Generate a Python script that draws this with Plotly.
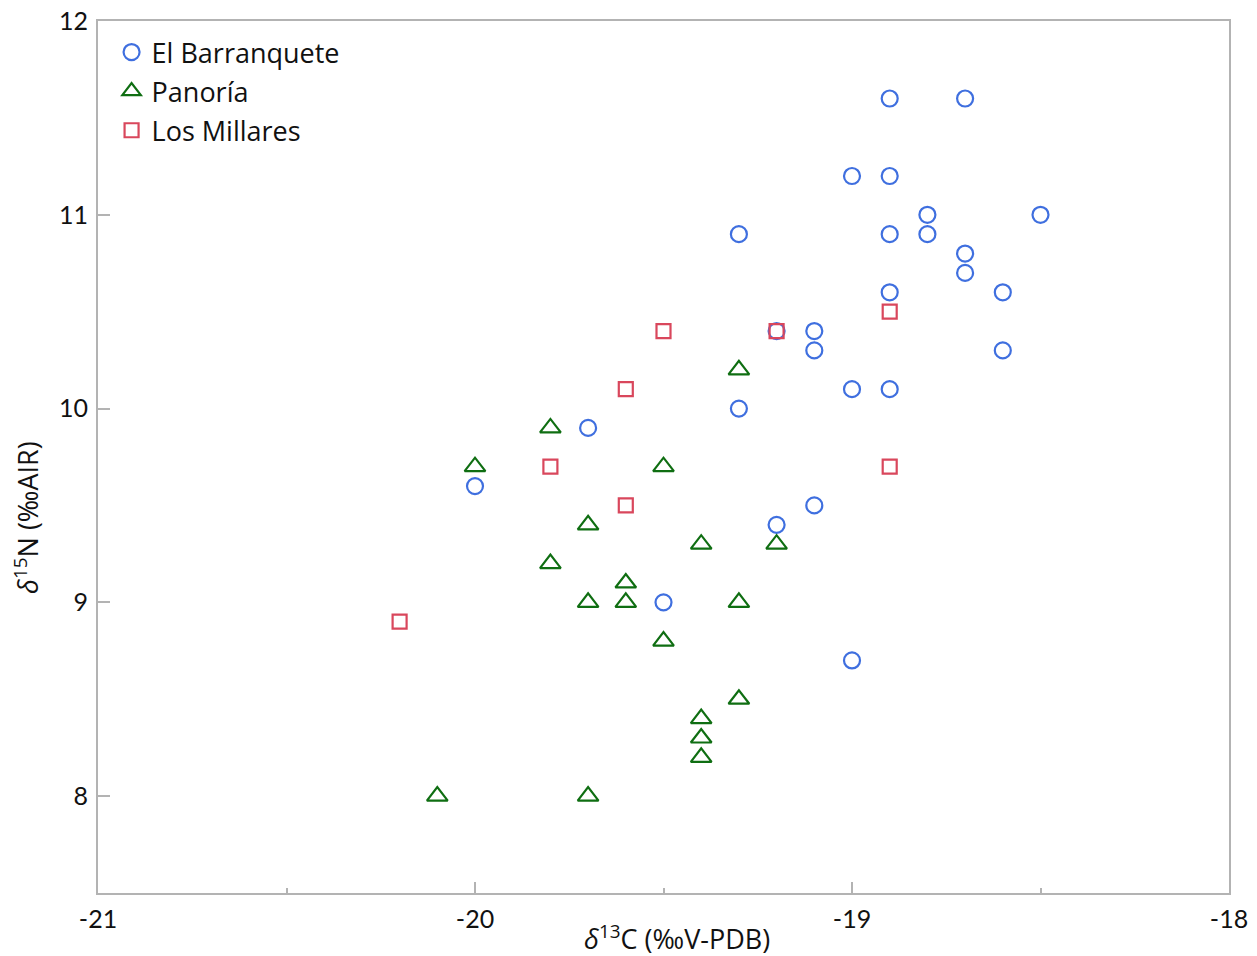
import plotly.graph_objects as go

# δ13C / δ15N values per site
barranquete_c = [-18.9, -18.7, -19.0, -18.9, -18.8, -18.5, -19.3, -18.9, -18.8, -18.7,
                 -18.7, -18.9, -18.6, -19.2, -19.1, -19.1, -18.6, -19.0, -18.9, -19.3,
                 -19.7, -20.0, -19.1, -19.2, -19.5, -19.0]
barranquete_n = [11.6, 11.6, 11.2, 11.2, 11.0, 11.0, 10.9, 10.9, 10.9, 10.8,
                 10.7, 10.6, 10.6, 10.4, 10.4, 10.3, 10.3, 10.1, 10.1, 10.0,
                 9.9, 9.6, 9.5, 9.4, 9.0, 8.7]

panoria_c = [-19.3, -19.8, -20.0, -19.5, -19.7, -19.4, -19.2, -19.8, -19.6, -19.7,
             -19.6, -19.3, -19.5, -19.3, -19.4, -19.4, -19.4, -20.1, -19.7]
panoria_n = [10.2, 9.9, 9.7, 9.7, 9.4, 9.3, 9.3, 9.2, 9.1, 9.0,
             9.0, 9.0, 8.8, 8.5, 8.4, 8.3, 8.2, 8.0, 8.0]

millares_c = [-19.5, -19.2, -18.9, -19.6, -19.8, -19.6, -18.9, -20.2]
millares_n = [10.4, 10.4, 10.5, 10.1, 9.7, 9.5, 9.7, 8.9]

x_ticks = [-21, -20, -19, -18]
x_tick_labels = ["-21", "-20", "-19", "-18"]
x_minor_ticks = [-20.5, -19.5, -18.5]
y_ticks = [8, 9, 10, 11, 12]
y_tick_labels = ["8", "9", "10", "11", "12"]

FONT = "Lato, 'Open Sans', sans-serif"
TEXT_FONT = "'Open Sans', Lato, sans-serif"
AXIS_GREY = "#b3b3b3"

fig = go.Figure()
fig.add_trace(go.Scatter(
    x=barranquete_c, y=barranquete_n, mode="markers", name="El Barranquete",
    legendgroup="a",
    marker=dict(symbol="circle-open", size=16, color="#3f6fdf", line=dict(width=2.2)),
))
fig.add_trace(go.Scatter(
    x=panoria_c, y=panoria_n, mode="markers", name="Panoría",
    legendgroup="b",
    marker=dict(symbol="triangle-up-open", size=18, color="#0f6e12", line=dict(width=2.2)),
))
fig.add_trace(go.Scatter(
    x=millares_c, y=millares_n, mode="markers", name="Los Millares",
    legendgroup="c",
    marker=dict(symbol="square-open", size=14, color="#d9475c", line=dict(width=2.2)),
))

fig.update_layout(
    width=1257, height=956,
    margin=dict(l=98, r=28, t=21, b=63, autoexpand=False),
    paper_bgcolor="white", plot_bgcolor="white",
    font=dict(family=FONT, size=24, color="#111111"),
    showlegend=True,
    legend=dict(
        x=0.012, y=0.992, xanchor="left", yanchor="top",
        bgcolor="rgba(0,0,0,0)", font=dict(size=27, family=TEXT_FONT),
        tracegroupgap=1, traceorder="grouped", itemwidth=30,
    ),
    xaxis=dict(
        range=[-21, -18], showgrid=False, zeroline=False, automargin=False,
        showline=True, linecolor=AXIS_GREY, linewidth=2, mirror=True,
        tickvals=x_ticks, ticktext=x_tick_labels,
        ticks="inside", ticklen=11, tickwidth=1.5, tickcolor=AXIS_GREY,
        tickfont=dict(size=25, family=FONT), ticklabelstandoff=3,
        minor=dict(tickvals=x_minor_ticks, ticks="inside", ticklen=5,
                   tickwidth=1.5, tickcolor=AXIS_GREY),
    ),
    yaxis=dict(
        range=[7.5, 12], showgrid=False, zeroline=False, automargin=False,
        showline=True, linecolor=AXIS_GREY, linewidth=2, mirror=True,
        tickvals=y_ticks, ticktext=y_tick_labels,
        ticks="inside", ticklen=12, tickwidth=1.5, tickcolor=AXIS_GREY,
        tickfont=dict(size=25, family=FONT), ticklabelstandoff=3,
    ),
)

# Axis titles
fig.add_annotation(
    text="<i>δ</i><sup>13</sup>C (‰V-PDB)", xref="paper", yref="paper",
    x=0.512, y=0, yshift=-44, showarrow=False, xanchor="center", yanchor="middle",
    font=dict(size=27, family=TEXT_FONT),
)
fig.add_annotation(
    text="<i>δ</i><sup>15</sup>N (‰AIR)", xref="paper", yref="paper",
    x=0, xshift=-72, y=0.43, showarrow=False, textangle=-90,
    xanchor="center", yanchor="middle", font=dict(size=27, family=TEXT_FONT),
)

fig.write_html("out.html")
